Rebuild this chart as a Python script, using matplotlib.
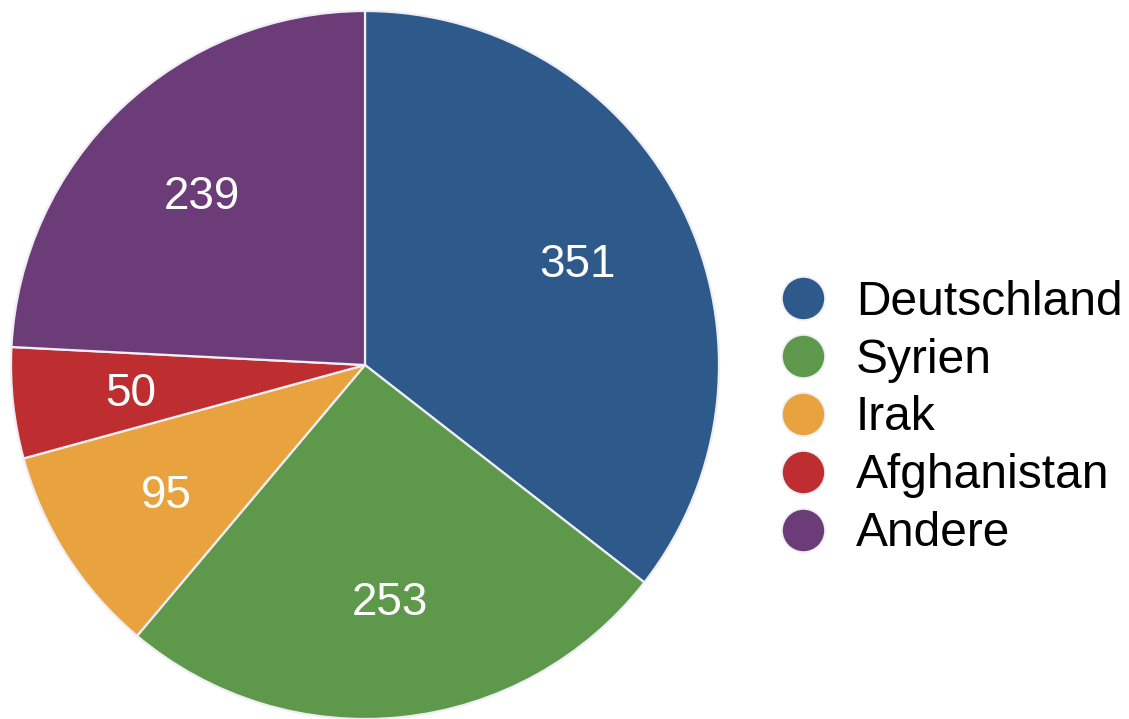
import matplotlib

matplotlib.use("Agg")
import matplotlib.pyplot as plt
from matplotlib.lines import Line2D

plt.rcParams["font.family"] = ["Liberation Sans", "DejaVu Sans"]

labels = ["Deutschland", "Syrien", "Irak", "Afghanistan", "Andere"]
values = [351, 253, 95, 50, 239]
colors = ["#2E598B", "#5E984A", "#E9A33E", "#BE2D30", "#6C3C79"]

W, H = 1129, 719
fig = plt.figure(figsize=(W / 100, H / 100), dpi=100)

# pie centred at (365, 365) px from top-left, radius 354 px
r = 354
cx, cy = 365, H - 365
ax = fig.add_axes([(cx - r) / W, (cy - r) / H, 2 * r / W, 2 * r / H])

wedges, texts, autotexts = ax.pie(
    values,
    colors=colors,
    startangle=90,
    counterclock=False,
    radius=1,
    autopct=lambda p: f"{round(p * sum(values) / 100):d}",
    pctdistance=0.667,
    wedgeprops=dict(edgecolor="#EEEEF4", linewidth=1.6),
    textprops=dict(color="white", fontsize=33),
)
for t in autotexts:
    x, y = t.get_position()
    t.set_position((x, y - 0.01))
ax.set_xlim(-1, 1)
ax.set_ylim(-1, 1)
ax.set_aspect("equal")
ax.axis("off")

handles = [
    Line2D([], [], linestyle="none", marker="o", markersize=31,
           markerfacecolor=c, markeredgecolor="#EEEEF4", markeredgewidth=1.2)
    for c in colors
]
fig.legend(
    handles, labels,
    loc="center left",
    bbox_to_anchor=(779 / W, 1 - 418 / H),
    frameon=False,
    fontsize=34.5,
    handlelength=1.0,
    handletextpad=0.6,
    labelspacing=0.27,
    borderpad=0,
    borderaxespad=0,
)

fig.savefig("out.png", dpi=100)
plt.close(fig)
